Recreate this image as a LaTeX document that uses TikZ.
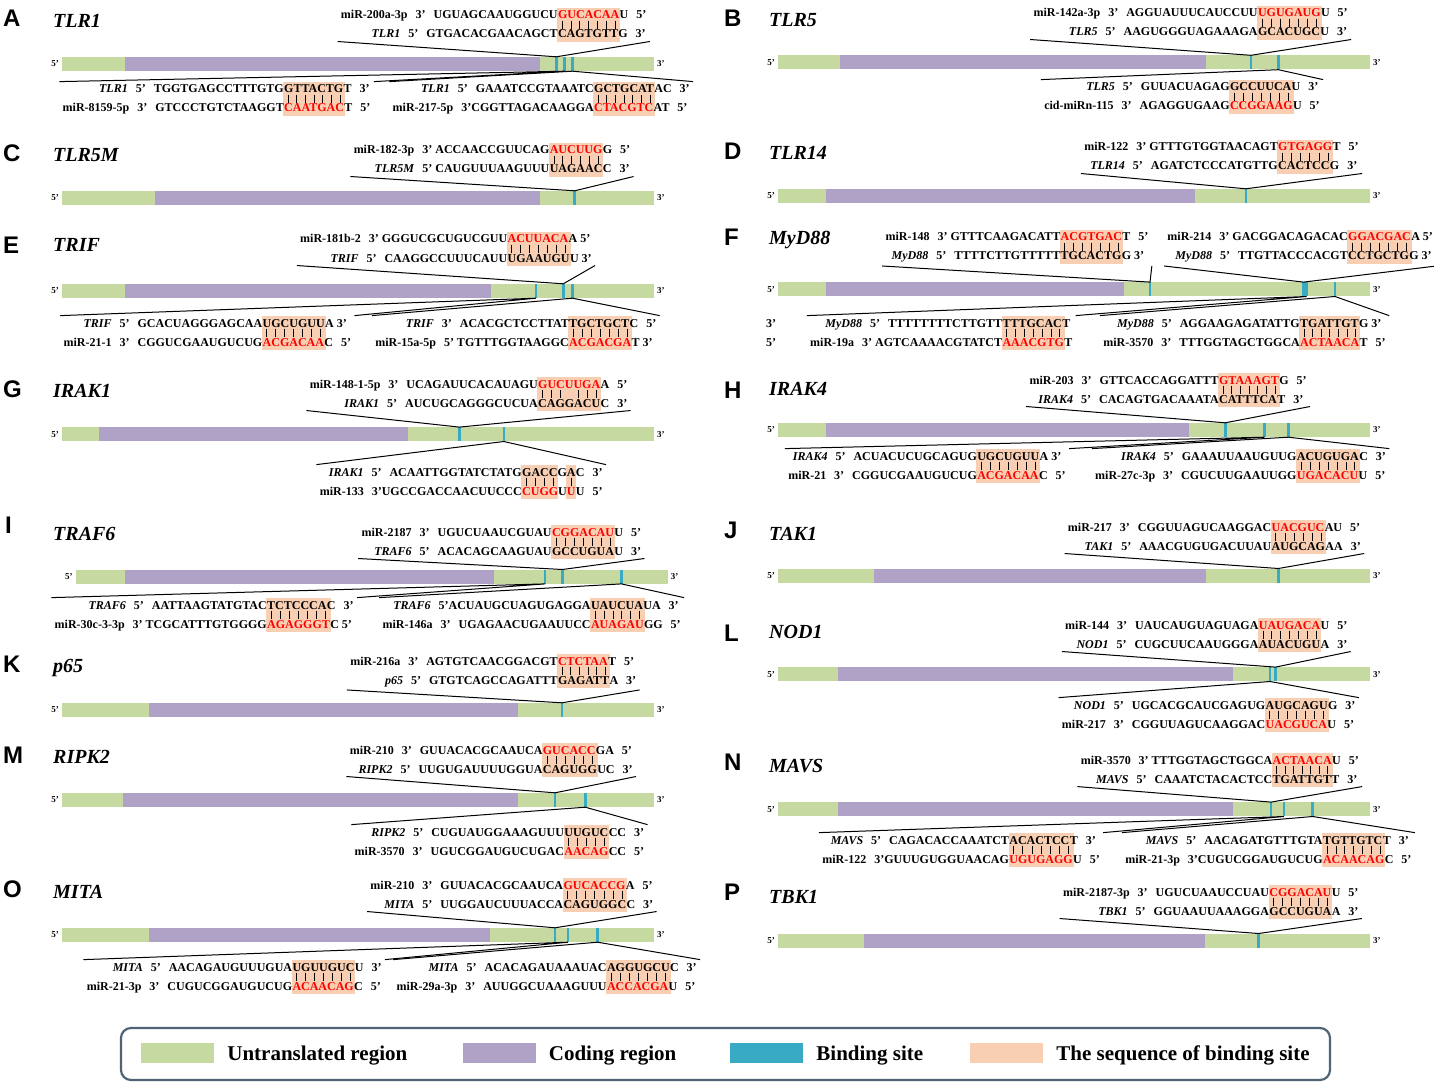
\documentclass[tikz,border=0pt]{standalone}
\usepackage{fontspec}
\setmainfont{Liberation Serif}
\setsansfont{Liberation Sans}
\usetikzlibrary{calc,fit,backgrounds,positioning}

\definecolor{utr}{RGB}{197,217,160}
\definecolor{cds}{RGB}{176,162,199}
\definecolor{bsite}{RGB}{56,170,196}
\definecolor{hlfill}{RGB}{248,207,178}
\definecolor{mirred}{RGB}{255,0,0}
\definecolor{legframe}{RGB}{80,100,118}

\newcommand{\rd}[1]{\textcolor{mirred}{#1}}
\newcommand{\gapp}{\hspace{8pt}}

\tikzset{
  seq/.style={font=\bfseries\fontsize{12}{14}\selectfont, inner sep=0pt},
  blk/.style={inner xsep=3pt, inner ysep=3pt},
  callout/.style={black, line width=1pt},
  tick/.style={black, line width=0.7pt},
  panel/.style={font=\sffamily\bfseries\fontsize{24}{26}\selectfont, anchor=base west, inner sep=0pt},
  gene/.style={font=\bfseries\itshape\fontsize{20}{22}\selectfont, anchor=base west, inner sep=0pt},
  endlab/.style={font=\bfseries\fontsize{9}{10}\selectfont, inner sep=0pt},
  sitemark/.style={fill=bsite, inner sep=0pt, minimum width=2.5pt, minimum height=14pt},
  legkey/.style={inner sep=0pt, minimum width=73pt, minimum height=20pt},
  legtext/.style={font=\bfseries\fontsize{21}{24}\selectfont, inner sep=0pt, anchor=base west},
}

\newcommand{\genebar}[5]{%
  \fill[utr] (#2,#3-7) rectangle (#2+592,#3+7);
  \fill[cds] (#4,#3-7) rectangle (#5,#3+7);
  \node[endlab, anchor=east] (#1-5) at (#2-3,#3) {5'};
  \node[endlab, anchor=west] (#1-3) at (#2+595,#3) {3'};
}

\newcommand{\seqpair}[8]{%
  \node[seq, anchor=base west] (#1-h1) at (#2) {#4};
  \node[seq, anchor=base east] (#1-l1) at (#1-h1.base west) {#3};
  \node[seq, anchor=base west] (#1-r1) at (#1-h1.base east) {#5};
  \node[seq, anchor=base west] (#1-h2) at ($(#1-h1.base west)+(0,19)$) {#7};
  \node[seq, anchor=base east] (#1-l2) at (#1-h2.base west) {#6};
  \node[seq, anchor=base west] (#1-r2) at (#1-h2.base east) {#8};
  \node[blk, fit=(#1-l1)(#1-r1)(#1-l2)(#1-r2)] (#1) {};
  \node[inner sep=0pt, fit=(#1-h1)(#1-h2)] (#1-hb) {};
}

\newcommand{\pairbox}[4]{%
  \begin{pgfonlayer}{background}
    \fill[hlfill] ($(#1-hb.north west)!#3/#2!(#1-hb.north east)+(-0.5,-2.5)$) rectangle ($(#1-hb.south west)!#4/#2!(#1-hb.south east)+(0.5,3)$);
  \end{pgfonlayer}}

\newcommand{\pairticks}[3]{%
  \foreach \k [evaluate=\k as \f using (\k-0.5)/#2] in {#3}
    \draw[tick] ($(#1-hb.north west)!\f!(#1-hb.north east)$) ++(0,10) -- ++(0,8);}

\newcommand{\pairall}[3]{\pairbox{#1}{#2}{0}{#2}\pairticks{#1}{#2}{#3}}

\begin{document}
\begin{tikzpicture}[x=1pt,y=-1pt]
\useasboundingbox (0,0) rectangle (1434,1083);

\node[panel] (pA) at (3,27) {A};
\node[gene] (gA) at (53,28) {TLR1};
\genebar{A}{62}{64}{125}{540}
\node[sitemark] (A1) at (556.4,64) {};
\node[sitemark] (A2) at (564.7,64) {};
\node[sitemark] (A3) at (572.5,64) {};
\seqpair{At}{557.8,19}{miR-200a-3p\gapp 3'\gapp UGUAGCAAUGGUCU}{\rd{GUCACAA}}{U\gapp 5'}{\textit{TLR1}\gapp 5'\gapp GTGACACGAACAGCT}{CAGTGTT}{G\gapp 3'}
\pairall{At}{7}{1,...,7}
\seqpair{Ab1}{284,93}{\textit{TLR1}\gapp 5'\gapp TGGTGAGCCTTTGTG}{GTTACTG}{T\gapp 3'}{miR-8159-5p\gapp 3'\gapp GTCCCTGTCTAAGGT}{\rd{CAATGAC}}{T\gapp 5'}
\pairall{Ab1}{7}{1,...,7}
\seqpair{Ab2}{594,93}{\textit{TLR1}\gapp 5'\gapp GAAATCCGTAAATC}{GCTGCAT}{AC\gapp 3'}{miR-217-5p\gapp 3'CGGTTAGACAAGGA}{\rd{CTACGTC}}{AT\gapp 5'}
\pairall{Ab2}{7}{1,...,7}
\draw[callout] (At.south west) -- (A1.north) -- (At.south east);
\draw[callout] (Ab1.north west) -- (A2.south) -- (Ab1.north east);
\draw[callout] (Ab2.north west) -- (A3.south) -- (Ab2.north east);

\node[panel] (pB) at (724,27) {B};
\node[gene] (gB) at (769,27) {TLR5};
\genebar{B}{778}{62.5}{840}{1206}
\node[sitemark] (B1) at (1251,62.5) {};
\node[sitemark] (B2) at (1278.4,62.5) {};
\seqpair{Bt}{1257.8,17}{miR-142a-3p\gapp 3'\gapp AGGUAUUUCAUCCUU}{\rd{UGUGAUG}}{U\gapp 5'}{\textit{TLR5}\gapp 5'\gapp AAGUGGGUAGAAAGA}{GCACUGC}{U\gapp 3'}
\pairall{Bt}{7}{1,...,7}
\seqpair{Bb}{1229.8,91}{\textit{TLR5}\gapp 5'\gapp GUUACUAGAG}{GCCUUCA}{U\gapp 3'}{cid-miRn-115\gapp 3'\gapp AGAGGUGAAG}{\rd{CCGGAAG}}{U\gapp 5'}
\pairall{Bb}{7}{1,...,7}
\draw[callout] (Bt.south west) -- (B1.north) -- (Bt.south east);
\draw[callout] (Bb.north west) -- (B2.south) -- (Bb.north east);

\node[panel] (pC) at (3,162) {C};
\node[gene] (gC) at (53,162) {TLR5M};
\genebar{C}{62}{198}{155}{539.5}
\node[sitemark] (C1) at (574.7,198) {};
\seqpair{Ct}{549.6,154}{miR-182-3p\gapp 3' ACCAACCGUUCAG}{\rd{AUCUUG}}{G\gapp 5'}{\textit{TLR5M}\gapp 5' CAUGUUUAAGUUU}{UAGAAC}{C\gapp 3'}
\pairall{Ct}{6}{1,...,6}
\draw[callout] (Ct.south west) -- (C1.north) -- (Ct.south east);

\node[panel] (pD) at (724,160) {D};
\node[gene] (gD) at (769,160) {TLR14};
\genebar{D}{778}{196}{826}{1194.6}
\node[sitemark] (D1) at (1245.9,196) {};
\seqpair{Dt}{1278,151}{miR-122\gapp 3' GTTTGTGGTAACAGT}{\rd{GTGAGG}}{T\gapp 5'}{\textit{TLR14}\gapp 5'\gapp AGATCTCCCATGTTG}{CACTCC}{G\gapp 3'}
\pairall{Dt}{6}{1,...,6}
\draw[callout] (Dt.south west) -- (D1.north) -- (Dt.south east);

\node[panel] (pE) at (3,254) {E};
\node[gene] (gE) at (53,252) {TRIF};
\genebar{E}{62}{291}{124.7}{491}
\node[sitemark] (E1) at (535.8,291) {};
\node[sitemark] (E2) at (563.3,291) {};
\node[sitemark] (E3) at (572.5,291) {};
\seqpair{Et}{507.4,243}{miR-181b-2\gapp 3' GGGUCGCUGUCGUU}{\rd{ACUUACA}}{A 5'}{\textit{TRIF}\gapp 5'\gapp CAAGGCCUUUCAUU}{UGAAUGU}{U 3'}
\pairall{Et}{7}{1,...,7}
\seqpair{Eb1}{262.5,327}{\textit{TRIF}\gapp 5'\gapp GCACUAGGGAGCAA}{UGCUGUU}{A 3'}{miR-21-1\gapp 3'\gapp CGGUCGAAUGUCUG}{\rd{ACGACAA}}{C\gapp 5'}
\pairall{Eb1}{7}{1,...,7}
\seqpair{Eb2}{569,327}{\textit{TRIF}\gapp 3'\gapp ACACGCTCCTTAT}{TGCTGCT}{C\gapp 5'}{miR-15a-5p\gapp 5' TGTTTGGTAAGGC}{\rd{ACGACGA}}{T 3'}
\pairall{Eb2}{7}{1,...,7}
\draw[callout] (Et.south west) -- (E2.north) -- (Et.south east);
\draw[callout] (Eb1.north west) -- (E1.south) -- (Eb1.north east);
\draw[callout] (Eb2.north west) -- (E3.south) -- (Eb2.north east);

\node[panel] (pF) at (724,246) {F};
\node[gene] (gF) at (769,244) {MyD88};
\genebar{F}{778}{289.3}{826}{1123.6}
\node[sitemark] (F1) at (1150,289.3) {};
\node[sitemark] (F2) at (1303.5,289.3) {};
\node[sitemark] (F3) at (1306.7,289.3) {};
\node[sitemark] (F4) at (1335,289.3) {};
\seqpair{Ft1}{1060.5,241}{miR-148\gapp 3' GTTTCAAGACATT}{\rd{ACGTGAC}}{T\gapp 5'}{\textit{MyD88}\gapp 5'\gapp TTTTCTTGTTTTT}{TGCACTG}{G 3'}
\pairall{Ft1}{7}{1,...,7}
\seqpair{Ft2}{1348,241}{miR-214\gapp 3' GACGGACAGACAC}{\rd{GGACGAC}}{A 5'}{\textit{MyD88}\gapp 5'\gapp TTGTTACCCACGT}{CCTGCTG}{G 3'}
\pairall{Ft2}{7}{1,...,7}
\seqpair{Fb1}{1002.3,327}{\textit{MyD88}\gapp 5'\gapp TTTTTTTTCTTGTT}{TTTGCAC}{T}{miR-19a\gapp 3' AGTCAAAACGTATCT}{\rd{AAACGTG}}{T}
\pairall{Fb1}{7}{1,...,7}
\node[seq, anchor=base west] (Fb1-e1) at (766,327) {3'};
\node[seq, anchor=base west] (Fb1-e2) at (766,346) {5'};
\seqpair{Fb2}{1300,327}{\textit{MyD88}\gapp 5'\gapp AGGAAGAGATATTG}{TGATTGT}{G 3'}{miR-3570\gapp 3'\gapp TTTGGTAGCTGGCA}{\rd{ACTAACA}}{T\gapp 5'}
\pairall{Fb2}{7}{1,...,7}
\draw[callout] (Ft1.south west) -- (F1.north) -- (Ft1.south east);
\draw[callout] (Ft2.south west) -- (F2.north) -- (Ft2.south east);
\draw[callout] (Fb1.north west) -- (F3.south) -- (Fb1.north east);
\draw[callout] (Fb2.north west) -- (F4.south) -- (Fb2.north east);

\node[panel] (pG) at (3,397) {G};
\node[gene] (gG) at (53,397) {IRAK1};
\genebar{G}{62}{434.3}{98.6}{407.6}
\node[sitemark] (G1) at (459.4,434.3) {};
\node[sitemark] (G2) at (503.8,434.3) {};
\seqpair{Gt}{538,388}{miR-148-1-5p\gapp 3'\gapp UCAGAUUCACAUAGU}{\rd{GUCUUGA}}{A\gapp 5'}{\textit{IRAK1}\gapp 5'\gapp AUCUGCAGGGCUCUA}{CAGGACU}{C\gapp 3'}
\pairall{Gt}{7}{1,2,3,5,6,7}
\seqpair{Gb}{522,476}{\textit{IRAK1}\gapp 5'\gapp ACAATTGGTATCTATG}{GACCGA}{C\gapp 3'}{miR-133\gapp 3'UGCCGACCAACUUCCC}{\rd{CUGG}U\rd{U}}{U\gapp 5'}
\pairbox{Gb}{6}{0}{4}
\pairbox{Gb}{6}{5}{6}
\pairticks{Gb}{6}{1,2,3,4,6}
\draw[callout] (Gt.south west) -- (G1.north) -- (Gt.south east);
\draw[callout] (Gb.north west) -- (G2.south) -- (Gb.north east);

\node[panel] (pH) at (724,398) {H};
\node[gene] (gH) at (769,395) {IRAK4};
\genebar{H}{778}{430}{826}{1188.6}
\node[sitemark] (H1) at (1225.3,430) {};
\node[sitemark] (H2) at (1264.6,430) {};
\node[sitemark] (H3) at (1288.4,430) {};
\seqpair{Ht}{1218.9,384}{miR-203\gapp 3'\gapp GTTCACCAGGATTT}{\rd{GTAAAGT}}{G\gapp 5'}{\textit{IRAK4}\gapp 5'\gapp CACAGTGACAAATA}{CATTTCA}{T\gapp 3'}
\pairall{Ht}{7}{1,...,7}
\seqpair{Hb1}{977.1,460}{\textit{IRAK4}\gapp 5'\gapp ACUACUCUGCAGUG}{UGCUGUU}{A 3'}{miR-21\gapp 3'\gapp CGGUCGAAUGUCUG}{\rd{ACGACAA}}{C\gapp 5'}
\pairall{Hb1}{7}{1,...,7}
\seqpair{Hb2}{1296.7,460}{\textit{IRAK4}\gapp 5'\gapp GAAAUUAAUGUUG}{ACUGUGA}{C\gapp 3'}{miR-27c-3p\gapp 3'\gapp CGUCUUGAAUUGG}{\rd{UGACACU}}{U\gapp 5'}
\pairall{Hb2}{7}{1,...,7}
\draw[callout] (Ht.south west) -- (H1.north) -- (Ht.south east);
\draw[callout] (Hb1.north west) -- (H2.south) -- (Hb1.north east);
\draw[callout] (Hb2.north west) -- (H3.south) -- (Hb2.north east);

\node[panel] (pI) at (5,533) {I};
\node[gene] (gI) at (53,540) {TRAF6};
\genebar{I}{75.7}{576.7}{124.7}{493.7}
\node[sitemark] (I1) at (545,576.7) {};
\node[sitemark] (I2) at (562.4,576.7) {};
\node[sitemark] (I3) at (621.4,576.7) {};
\seqpair{It}{551.8,536}{miR-2187\gapp 3'\gapp UGUCUAAUCGUAU}{\rd{CGGACAU}}{U\gapp 5'}{\textit{TRAF6}\gapp 5'\gapp ACACAGCAAGUAU}{GCCUGUA}{U\gapp 3'}
\pairall{It}{7}{1,...,7}
\seqpair{Ib1}{267,609}{\textit{TRAF6}\gapp 5'\gapp AATTAAGTATGTAC}{TCTCCCA}{C\gapp 3'}{miR-30c-3-3p\gapp 3' TCGCATTTGTGGGG}{\rd{AGAGGGT}}{C 5'}
\pairall{Ib1}{7}{1,...,7}
\seqpair{Ib2}{590.8,609}{\textit{TRAF6}\gapp 5'ACUAUGCUAGUGAGGA}{UAUCUA}{UA\gapp 3'}{miR-146a\gapp 3'\gapp UGAGAACUGAAUUCC}{\rd{AUAGAU}}{GG\gapp 5'}
\pairall{Ib2}{6}{1,...,6}
\draw[callout] (It.south west) -- (I2.north) -- (It.south east);
\draw[callout] (Ib1.north west) -- (I1.south) -- (Ib1.north east);
\draw[callout] (Ib2.north west) -- (I3.south) -- (Ib2.north east);

\node[panel] (pJ) at (724,538) {J};
\node[gene] (gJ) at (769,540) {TAK1};
\genebar{J}{778}{575.7}{874}{1206}
\node[sitemark] (J1) at (1278.4,575.7) {};
\seqpair{Jt}{1271.5,531}{miR-217\gapp 3'\gapp CGGUUAGUCAAGGAC}{\rd{UACGUC}}{AU\gapp 5'}{\textit{TAK1}\gapp 5'\gapp AAACGUGUGACUUAU}{AUGCAG}{AA\gapp 3'}
\pairall{Jt}{6}{1,...,6}
\draw[callout] (Jt.south west) -- (J1.north) -- (Jt.south east);

\node[panel] (pK) at (3,672) {K};
\node[gene] (gK) at (53,672) {p65};
\genebar{K}{62}{710}{149}{517.5}
\node[sitemark] (K1) at (562,710) {};
\seqpair{Kt}{557.8,665}{miR-216a\gapp 3'\gapp AGTGTCAACGGACGT}{\rd{CTCTAA}}{T\gapp 5'}{\textit{p65}\gapp 5'\gapp GTGTCAGCCAGATTT}{GAGATT}{A\gapp 3'}
\pairall{Kt}{6}{1,...,6}
\draw[callout] (Kt.south west) -- (K1.north) -- (Kt.south east);

\node[panel] (pL) at (724,641) {L};
\node[gene] (gL) at (769,638) {NOD1};
\genebar{L}{778}{674.3}{837.5}{1232.6}
\node[sitemark] (L1) at (1270,674.3) {};
\node[sitemark] (L2) at (1275.6,674.3) {};
\seqpair{Lt}{1258.7,629}{miR-144\gapp 3'\gapp UAUCAUGUAGUAGA}{\rd{UAUGACA}}{U\gapp 5'}{\textit{NOD1}\gapp 5'\gapp CUGCUUCAAUGGGA}{AUACUGU}{A\gapp 3'}
\pairall{Lt}{7}{1,...,7}
\seqpair{Lb}{1265.5,709}{\textit{NOD1}\gapp 5'\gapp UGCACGCAUCGAGUG}{AUGCAGU}{G\gapp 3'}{miR-217\gapp 3'\gapp CGGUUAGUCAAGGAC}{\rd{UACGUCA}}{U\gapp 5'}
\pairall{Lb}{7}{1,...,7}
\draw[callout] (Lt.south west) -- (L2.north) -- (Lt.south east);
\draw[callout] (Lb.north west) -- (L1.south) -- (Lb.north east);

\node[panel] (pM) at (3,763) {M};
\node[gene] (gM) at (53,763) {RIPK2};
\genebar{M}{62}{800}{122.9}{517.5}
\node[sitemark] (M1) at (555,800) {};
\node[sitemark] (M2) at (585.3,800) {};
\seqpair{Mt}{542.7,754}{miR-210\gapp 3'\gapp GUUACACGCAAUCA}{\rd{GUCACC}}{GA\gapp 5'}{\textit{RIPK2}\gapp 5'\gapp UUGUGAUUUUGGUA}{CAGUGG}{UC\gapp 3'}
\pairall{Mt}{6}{1,...,6}
\seqpair{Mb}{564.2,836}{\textit{RIPK2}\gapp 5'\gapp CUGUAUGGAAAGUUU}{UUGUC}{CC\gapp 3'}{miR-3570\gapp 3'\gapp UGUCGGAUGUCUGAC}{\rd{AACAG}}{CC\gapp 5'}
\pairall{Mb}{5}{1,...,5}
\draw[callout] (Mt.south west) -- (M1.north) -- (Mt.south east);
\draw[callout] (Mb.north west) -- (M2.south) -- (Mb.north east);

\node[panel] (pN) at (724,770) {N};
\node[gene] (gN) at (769,772) {MAVS};
\genebar{N}{778}{809.3}{837.5}{1232.6}
\node[sitemark] (N1) at (1271,809.3) {};
\node[sitemark] (N2) at (1283.9,809.3) {};
\node[sitemark] (N3) at (1312.7,809.3) {};
\seqpair{Nt}{1272.4,764}{miR-3570\gapp 3' TTTGGTAGCTGGCA}{\rd{ACTAACA}}{U\gapp 5'}{\textit{MAVS}\gapp 5'\gapp CAAATCTACACTCC}{TGATTGT}{T\gapp 3'}
\pairall{Nt}{7}{1,...,7}
\seqpair{Nb1}{1009.2,844}{\textit{MAVS}\gapp 5'\gapp CAGACACCAAATCT}{ACACTCC}{T\gapp 3'}{miR-122\gapp 3'GUUUGUGGUAACAG}{\rd{UGUGAGG}}{U\gapp 5'}
\pairall{Nb1}{7}{1,...,7}
\seqpair{Nb2}{1322.8,844}{\textit{MAVS}\gapp 5'\gapp AACAGATGTTTGTA}{TGTTGTC}{T\gapp 3'}{miR-21-3p\gapp 3'CUGUCGGAUGUCUG}{\rd{ACAACAG}}{C\gapp 5'}
\pairall{Nb2}{7}{1,...,7}
\draw[callout] (Nt.south west) -- (N1.north) -- (Nt.south east);
\draw[callout] (Nb1.north west) -- (N2.south) -- (Nb1.north east);
\draw[callout] (Nb2.north west) -- (N3.south) -- (Nb2.north east);

\node[panel] (pO) at (3,897) {O};
\node[gene] (gO) at (53,898) {MITA};
\genebar{O}{62}{935}{149}{490}
\node[sitemark] (O1) at (555,935) {};
\node[sitemark] (O2) at (567.9,935) {};
\node[sitemark] (O3) at (597.6,935) {};
\seqpair{Ot}{563.3,889}{miR-210\gapp 3'\gapp GUUACACGCAAUCA}{\rd{GUCACCG}}{A\gapp 5'}{\textit{MITA}\gapp 5'\gapp UUGGAUCUUUACCA}{CAGUGGC}{C\gapp 3'}
\pairall{Ot}{7}{1,...,7}
\seqpair{Ob1}{292.3,971}{\textit{MITA}\gapp 5'\gapp AACAGAUGUUUGUA}{UGUUGUC}{U\gapp 3'}{miR-21-3p\gapp 3'\gapp CUGUCGGAUGUCUG}{\rd{ACAACAG}}{C\gapp 5'}
\pairall{Ob1}{7}{1,...,7}
\seqpair{Ob2}{606.8,971}{\textit{MITA}\gapp 5'\gapp ACACAGAUAAAUAC}{AGGUGCU}{C\gapp 3'}{miR-29a-3p\gapp 3'\gapp AUUGGCUAAAGUUU}{\rd{ACCACGA}}{U\gapp 5'}
\pairall{Ob2}{7}{1,...,7}
\draw[callout] (Ot.south west) -- (O1.north) -- (Ot.south east);
\draw[callout] (Ob1.north west) -- (O2.south) -- (Ob1.north east);
\draw[callout] (Ob2.north west) -- (O3.south) -- (Ob2.north east);

\node[panel] (pP) at (724,900) {P};
\node[gene] (gP) at (769,903) {TBK1};
\genebar{P}{778}{940.7}{864}{1205}
\node[sitemark] (P1) at (1258.7,940.7) {};
\seqpair{Pt}{1269.2,896}{miR-2187-3p\gapp 3'\gapp UGUCUAAUCCUAU}{\rd{CGGACAU}}{U\gapp 5'}{\textit{TBK1}\gapp 5'\gapp GGUAAUUAAAGGA}{GCCUGUA}{A\gapp 3'}
\pairall{Pt}{7}{1,...,7}
\draw[callout] (Pt.south west) -- (P1.north) -- (Pt.south east);

\draw[legframe, line width=2.2pt, rounded corners=10pt] (121,1028) rectangle (1330,1080);
\node[legkey, fill=utr] (k1) at (177.5,1053) {};
\node[legtext] (t1) at ($(k1.east)+(13,7)$) {Untranslated region};
\node[legkey, fill=cds] (k2) at (499,1053) {};
\node[legtext] (t2) at ($(k2.east)+(13,7)$) {Coding region};
\node[legkey, fill=bsite] (k3) at (766.5,1053) {};
\node[legtext] (t3) at ($(k3.east)+(13,7)$) {Binding site};
\node[legkey, fill=hlfill] (k4) at (1006.5,1053) {};
\node[legtext] (t4) at ($(k4.east)+(13,7)$) {The sequence of binding site};
\end{tikzpicture}
\end{document}
